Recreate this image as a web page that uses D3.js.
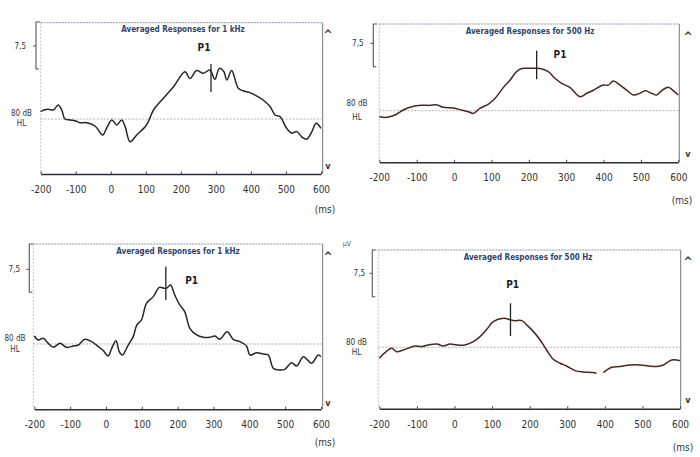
<!DOCTYPE html>
<html>
<head>
<meta charset="utf-8">
<script src="https://cdn.jsdelivr.net/npm/d3@7/dist/d3.min.js"></script>
<style>
  html, body { margin: 0; padding: 0; background: #fff; }
  svg { display: block; }
  text { font-family: "Liberation Sans Narrow", "DejaVu Sans Condensed", "Liberation Sans", sans-serif; }
</style>
</head>
<body>
<svg id="chart" width="700" height="457"></svg>
<script>
// ---------- DATA ----------
const titles = [
  "Averaged Responses for 1 kHz",
  "Averaged Responses for 500 Hz",
  "Averaged Responses for 1 kHz",
  "Averaged Responses for 500 Hz"
];
const tickValues = [-200, -100, 0, 100, 200, 300, 400, 500, 600];
const tickLabels = ["-200", "-100", "0", "100", "200", "300", "400", "500", "600"];
const scaleLabel = "7,5";
const scaleValue = 7.5;           // µV scale bar
const levelLabel = ["80 dB", "HL"];
const peakLabel = "P1";
const unitLabel = "(ms)";
const peakLatency = [286, 221, 167, 149]; // ms

// time (ms) and amplitude (µV) for each trace
const ms1 = [-200,-189,-178,-164,-150,-140,-131,-116,-102,-88,-69,-45,-23,-12,3,17,31,41,55,74,102,122,150,179,212,226,245,264,283,297,310,323,331,345,364,378,397,412,435,455,469,483,502,516,531,545,559,574,586,600];
const uv1 = [1.2,1.5,1.58,1.47,2.28,1.47,0,-0.16,-0.27,-0.6,-0.6,-1.14,-2.6,-1.52,-0.16,-0.98,-0.16,-1.25,-3.7,-2.6,-0.98,1.47,3.37,5.27,7.7,6.6,7.9,7.45,8.0,6.47,8.26,7.7,6.36,7.9,5.0,4.6,4.3,3.9,3.1,2.0,0.65,0.38,-1.52,-2.3,-2.06,-2.9,-3.3,-2.06,-0.7,-1.52];

const ms2 = [-200,-180,-158,-136,-113,-87,-64,-47,-29,-2,20,38,52,69,92,110,132,150,167,181,208,230,252,270,288,310,337,355,373,399,413,426,444,462,480,497,511,529,542,555,573,587,600];
const uv2 = [-1.05,-1.17,-0.76,0.12,0.7,0.94,0.94,1.05,0.59,0.47,0.12,-0.18,-0.47,0.41,1.17,2.17,4.1,5.4,6.85,7.4,7.44,7.4,6.85,5.7,4.8,4.1,2.46,3.05,3.6,4.5,4.5,5.2,4.5,3.6,2.75,3.05,3.5,3.05,2.75,3.5,4.1,3.5,2.75];

const ms3 = [-200,-189,-175,-161,-147,-128,-110,-91,-77,-59,-40,-21,-7,6,16,28,37,46,62,76,86,99,113,132,149,162,169,180,192,206,220,234,253,271,290,304,318,338,355,374,392,402,420,439,453,467,485,499,518,532,551,574,592,600];
const uv3 = [1.24,0.62,0.88,0.1,-0.52,0.1,-0.52,-0.31,-0.16,0.73,0.36,-0.41,-1.04,-1.87,-0.67,0.52,-1.19,-1.71,-0.16,1.14,2.95,3.73,6.3,7.36,8.8,8.65,8.65,9.17,7.6,6.06,5.0,2.44,1.4,1.04,1.04,1.24,0.73,1.92,0.73,0.36,-0.31,-1.71,-1.35,-1.55,-1.71,-3.78,-4.04,-3.94,-2.9,-3.42,-1.97,-3.0,-1.71,-1.97];

const ms4 = [-200,-185,-167,-154,-136,-105,-87,-70,-47,-30,-12,6,28,50,68,86,103,130,157,179,192,210,228,245,263,281,298,321,343,369,378,390,396,418,440,467,494,516,538,556,578,600];
const uv4 = [-1.77,-0.86,-0.16,-0.7,-0.43,0.21,0.11,0.38,0.54,0.21,0.54,0.38,0.38,0.91,1.71,2.89,4.13,4.66,4.29,4.29,3.6,2.52,1.18,-0.43,-1.93,-2.57,-3.0,-3.75,-3.97,-4.07,-4.18,null,-4.07,-3.2,-3.1,-2.84,-2.84,-3.0,-3.1,-2.84,-2.04,-2.14];

const seriesMs = [ms1, ms2, ms3, ms4];
const seriesUv = [uv1, uv2, uv3, uv4];

// ---------- LAYOUT (positions / styles) ----------
const layout = [
  { L:40.7, R:322.7, x0:40.7, x1:321, T:22.7, B:174, base:119, ppu:6.13, brX:36, brT:22, brB:69, sY:46, sX:31,
    lvX:21.5, lvY:[113,123.5], tY:29, tX:183, pX:204, pY:47, mT:64, mB:92, arrX:328, upY:30, dnY:166, msX:325, msY:209,
    stroke:"#262626" },
  { L:379.3, R:679.3, x0:379.3, x1:678.3, T:24, B:162.3, base:110.7, ppu:5.69, brX:373.3, brT:24, brB:66.7, sY:43.3, sX:368.5,
    lvX:357, lvY:[103.5,117.5], tY:30.7, tX:530, pX:560, pY:54, mT:50.7, mB:79.3, arrX:688, upY:32, dnY:154, msX:682, msY:200,
    stroke:"#4a2624" },
  { L:33.3, R:322.7, x0:34.3, x1:321, T:244, B:409.3, base:344, ppu:6.44, brX:29.3, brT:244, brB:292.3, sY:269.3, sX:25,
    lvX:15, lvY:[338.5,349], tY:250.7, tX:178, pX:191.7, pY:280, mT:266.7, mB:300, arrX:328, upY:251.5, dnY:403, msX:325, msY:442,
    stroke:"#262626" },
  { L:378.3, R:680.7, x0:379.3, x1:680, T:250, B:408.7, base:347.3, ppu:6.22, brX:372.3, brT:250, brB:296.7, sY:273.3, sX:370,
    lvX:356.5, lvY:[342,352.5], tY:257.3, tX:528, pX:512.7, pY:284, mT:303.3, mB:336, arrX:688, upY:257, dnY:400, msX:683, msY:447,
    stroke:"#4a2624", unit:{x:347, y:244} }
];

const svg = d3.select("#chart");

layout.forEach((c, i) => {
  const g = svg.append("g");
  const x = d3.scaleLinear().domain([tickValues[0], tickValues[tickValues.length - 1]]).range([c.x0, c.x1]);
  const y = d3.scaleLinear().domain([0, scaleValue]).range([c.base, c.base - scaleValue * c.ppu]);

  // frame: top dotted, left dotted, right solid grey
  g.append("line").attr("x1", c.L).attr("x2", c.R).attr("y1", c.T).attr("y2", c.T)
    .attr("stroke", "#8a96a8").attr("stroke-width", 1).attr("stroke-dasharray", "2,1");
  g.append("line").attr("x1", c.L).attr("x2", c.L).attr("y1", c.T).attr("y2", c.B)
    .attr("stroke", "#b4b4b4").attr("stroke-width", 0.8).attr("stroke-dasharray", "2,1.5");
  g.append("line").attr("x1", c.R).attr("x2", c.R).attr("y1", c.T).attr("y2", c.B)
    .attr("stroke", "#777").attr("stroke-width", 1);

  // baseline (80 dB HL level)
  g.append("line").attr("x1", c.L).attr("x2", c.R).attr("y1", y(0)).attr("y2", y(0))
    .attr("stroke", "#9a9a9a").attr("stroke-width", 0.8).attr("stroke-dasharray", "2,1.5");

  // scale bracket
  g.append("path")
    .attr("d", `M${c.brX + 4},${c.brT} H${c.brX} V${c.brB} H${c.brX + 3}`)
    .attr("fill", "none").attr("stroke", "#555").attr("stroke-width", 1.1);
  g.append("line").attr("x1", c.brX - 3).attr("x2", c.brX).attr("y1", c.sY).attr("y2", c.sY)
    .attr("stroke", "#555").attr("stroke-width", 1);
  g.append("text").attr("x", c.sX - 5).attr("y", c.sY).attr("dy", "0.35em")
    .attr("text-anchor", "end").attr("font-size", 8).attr("fill", "#333").text(scaleLabel);

  // level label
  levelLabel.forEach((t, k) => {
    g.append("text").attr("x", c.lvX).attr("y", c.lvY[k]).attr("dy", "0.35em")
      .attr("text-anchor", "middle").attr("font-size", 8).attr("fill", "#333").text(t);
  });

  // x axis
  const axis = d3.axisBottom(x).tickValues(tickValues)
    .tickFormat((d, k) => tickLabels[k]).tickSizeInner(-2.5).tickSizeOuter(0).tickPadding(12);
  const ax = g.append("g").attr("transform", `translate(0,${c.B})`).call(axis);
  ax.select(".domain").attr("stroke", "#2a2f3a").attr("stroke-width", 1.6);
  ax.selectAll(".tick line").attr("stroke", "#444");
  ax.selectAll(".tick text").attr("font-size", 10).attr("fill", "#333")
    .attr("font-family", "'Liberation Sans Narrow', 'DejaVu Sans Condensed', sans-serif");
  g.append("text").attr("x", c.msX).attr("y", c.msY).attr("dy", "0.35em")
    .attr("text-anchor", "middle").attr("font-size", 10).attr("fill", "#333").text(unitLabel);

  // title
  g.append("text").attr("x", c.tX).attr("y", c.tY).attr("dy", "0.35em")
    .attr("text-anchor", "middle").attr("font-size", 8).attr("font-weight", "bold")
    .attr("font-family", "'Liberation Sans', sans-serif")
    .attr("fill", "#2e4470").text(titles[i]);

  // arrows
  g.append("text").attr("x", c.arrX).attr("y", c.upY).attr("dy", "0.75em").attr("text-anchor", "middle")
    .attr("font-size", 12).attr("font-weight", "bold").attr("fill", "#333")
    .attr("font-family", "'DejaVu Sans', sans-serif").text("^");
  g.append("text").attr("x", c.arrX).attr("y", c.dnY).attr("dy", "0.35em").attr("text-anchor", "middle")
    .attr("font-size", 9).attr("font-weight", "bold").attr("fill", "#333")
    .attr("font-family", "'DejaVu Sans', sans-serif").text("v");

  if (c.unit) {
    g.append("text").attr("x", c.unit.x).attr("y", c.unit.y).attr("dy", "0.35em")
      .attr("text-anchor", "middle").attr("font-size", 7).attr("fill", "#555").text("µV");
  }

  // trace
  const pts = seriesMs[i].map((m, k) => [m, seriesUv[i][k]]);
  const line = d3.line()
    .defined(d => d[1] !== null)
    .x(d => x(d[0])).y(d => y(d[1]))
    .curve(d3.curveCatmullRom.alpha(0.5));
  g.append("path").datum(pts).attr("d", line)
    .attr("fill", "none").attr("stroke", c.stroke).attr("stroke-width", 1.5)
    .attr("stroke-linejoin", "round");

  // peak marker and label
  g.append("line").attr("x1", x(peakLatency[i])).attr("x2", x(peakLatency[i]))
    .attr("y1", c.mT).attr("y2", c.mB).attr("stroke", "#222").attr("stroke-width", 1.3);
  g.append("text").attr("x", c.pX).attr("y", c.pY).attr("dy", "0.35em")
    .attr("text-anchor", "middle").attr("font-size", 10).attr("font-weight", "bold")
    .attr("font-family", "'Liberation Sans', sans-serif").attr("fill", "#222").text(peakLabel);
});
</script>
</body>
</html>
